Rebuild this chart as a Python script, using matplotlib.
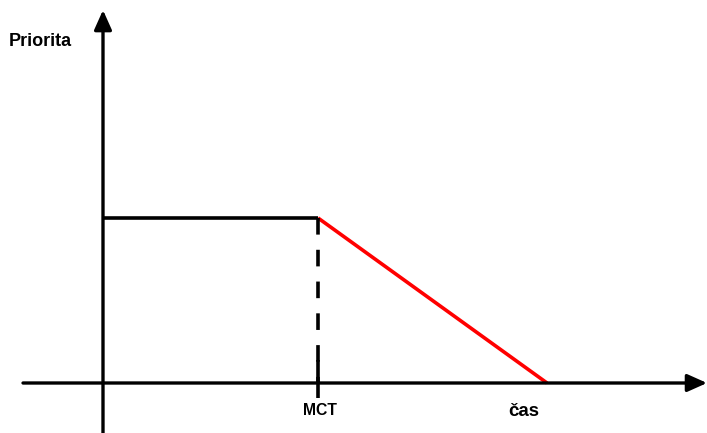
import matplotlib
matplotlib.use('Agg')
import matplotlib.pyplot as plt

# priority curve: flat until MCT, then falls linearly to zero
flat_x = [0.0, 1.0]
flat_y = [1.0, 1.0]
decay_x = [1.0, 2.065]
decay_y = [1.0, 0.0]
mct = 1.0
tick_labels = ['MCT', 'čas']
y_label = 'Priorita'

plt.rcParams['font.family'] = ['Liberation Sans', 'DejaVu Sans']

fig = plt.figure(figsize=(7.07, 4.33), dpi=100)
ax = fig.add_axes([0, 0, 1, 1])
ax.set_xlim(-0.479, 2.809)
ax.set_ylim(-0.303, 2.321)
ax.axis('off')

arrow = dict(arrowstyle='-|>,head_length=0.85,head_width=0.38', color='black',
             lw=2.4, mutation_scale=14, shrinkA=0, shrinkB=0)
# x axis
ax.annotate('', xy=(2.809, 0), xytext=(-0.372, 0), arrowprops=arrow)
# y axis
ax.annotate('', xy=(0, 2.26), xytext=(0, -0.303), arrowprops=arrow)

ax.plot(flat_x, flat_y, color='black', lw=2.6, solid_capstyle='butt')
ax.plot(decay_x, decay_y, color='#ff0000', lw=2.6, solid_capstyle='butt')
ax.plot([mct, mct], [flat_y[-1], 0], color='black', lw=2.6,
        linestyle=(0, (4.6, 4.2)))
# tick below the axis at MCT
ax.plot([mct, mct], [0.14, -0.09], color='black', lw=2.6, solid_capstyle='butt')

ax.text(-0.29, 2.07, y_label, fontsize=13, fontweight='bold',
        ha='center', va='center')
ax.text(mct + 0.01, -0.168, tick_labels[0], fontsize=11.3, fontweight='bold',
        ha='center', va='center')
ax.text(1.958, -0.170, tick_labels[1], fontsize=13.4, fontweight='bold',
        ha='center', va='center')

fig.savefig('out.png', dpi=100)
